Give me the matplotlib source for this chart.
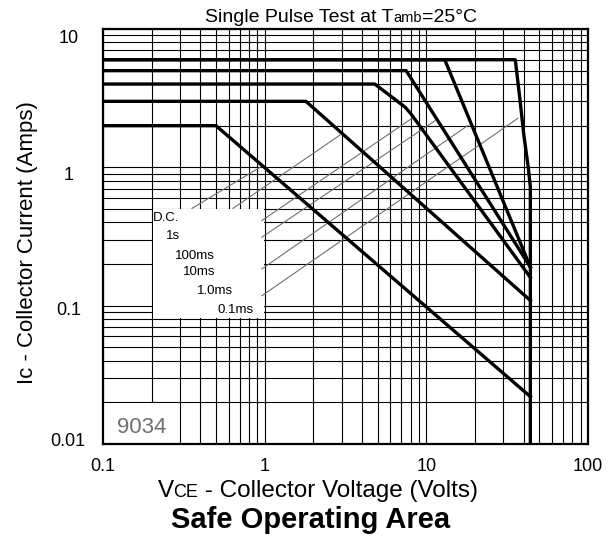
"""Safe operating area chart (single pulse, Tamb=25C)."""
import matplotlib
matplotlib.use('Agg')
from matplotlib import pyplot as plt
from matplotlib.offsetbox import TextArea, HPacker, AnnotationBbox
from matplotlib.patches import Rectangle
from matplotlib.transforms import ScaledTranslation

plt.rcParams['font.family'] = ['Liberation Sans', 'DejaVu Sans']

# SOA limits: collector volts / amps
v_dc = [0.1, 0.5, 44]
i_dc = [2.0, 2.0, 0.022]
v_1s = [0.1, 1.8, 44]
i_1s = [3.0, 3.0, 0.109]
v_100ms = [0.1, 4.8, 7.4, 8.0, 44]
i_100ms = [4.0, 4.0, 2.72, 2.45, 0.16]
v_10ms = [0.1, 7.5, 44]
i_10ms = [5.0, 5.0, 0.19]
v_1ms = [0.1, 13, 44]
i_1ms = [6.0, 6.0, 0.19]
v_01ms = [0.1, 35.5, 38, 40, 42.7, 44, 44]
i_01ms = [6.0, 6.0, 3.05, 1.75, 1.0, 0.72, 0.01]

pulse_labels = ['D.C.', '1s', '100ms', '10ms', '1.0ms', '0.1ms']

# leader lines from the label box to each curve
lead_v0 = [0.355, 0.637, 0.962, 0.962, 0.962, 0.962]
lead_i0 = [0.505, 0.505, 0.413, 0.313, 0.1845, 0.118]
lead_v1 = [0.976, 2.92, 8.15, 11.3, 18.1, 36.8]
lead_i1 = [1.03, 1.71, 2.26, 2.17, 2.01, 2.26]

x_ticks = [0.1, 1, 10, 100]
x_ticklabels = ['0.1', '1', '10', '100']
y_ticks = [0.01, 0.1, 1, 10]
y_ticklabels = ['0.01', '0.1', '1', '10']
y_label_shift = [4, -3, -6, -7]  # px, the datasheet labels sit a bit off the lines


def mixed_text(fig, parts, xy):
    """Text made of pieces of different sizes sharing a baseline."""
    areas = [TextArea(s, textprops=dict(size=sz, color='black')) for s, sz in parts]
    pack = HPacker(children=areas, align='baseline', pad=0, sep=0)
    ab = AnnotationBbox(pack, xy, xycoords='figure fraction', frameon=False,
                        box_alignment=(0.5, 0.5), pad=0)
    fig.add_artist(ab)


fig = plt.figure(figsize=(6.13, 5.42), dpi=100)
ax = fig.add_axes([103 / 613, 1 - 444 / 542, 485 / 613, 415 / 542])
ax.set_xscale('log')
ax.set_yscale('log')
ax.set_xlim(0.1, 100)
ax.set_ylim(0.01, 10)
ax.set_axisbelow(True)
ax.grid(True, which='both', color='black', lw=0.8)

for s in ax.spines.values():
    s.set_linewidth(1.6)

ax.set_xticks(x_ticks)
ax.set_xticklabels(x_ticklabels)
ax.set_yticks(y_ticks)
ax.set_yticklabels(y_ticklabels, ha='center')
ax.tick_params(which='both', length=0, labelsize=13)
ax.tick_params(axis='x', pad=10)
ax.tick_params(axis='y', pad=25)
for lab, dy in zip(ax.get_yticklabels(), y_label_shift):
    lab.set_transform(lab.get_transform() + ScaledTranslation(0, dy / 100, fig.dpi_scale_trans))

# white boxes that blank the grid under the labels
ax.add_patch(Rectangle((0.203, 0.082), 0.995 - 0.203, 0.497 - 0.082,
                       facecolor='white', edgecolor='none', zorder=1))
ax.add_patch(Rectangle((0.1, 0.01), 0.28 - 0.1, 0.0198 - 0.01,
                       facecolor='white', edgecolor='none', zorder=1))

for v0, i0, v1, i1 in zip(lead_v0, lead_i0, lead_v1, lead_i1):
    ax.plot([v0, v1], [i0, i1], color='#707070', lw=0.8, zorder=2)

for v, i in [(v_dc, i_dc), (v_1s, i_1s), (v_100ms, i_100ms),
             (v_10ms, i_10ms), (v_1ms, i_1ms), (v_01ms, i_01ms)]:
    ax.plot(v, i, color='black', lw=2.4, zorder=3, solid_joinstyle='round')

label_x = [0.204, 0.245, 0.279, 0.311, 0.380, 0.512]
label_y = [0.43, 0.321, 0.230, 0.176, 0.1285, 0.0935]
for s, x, y in zip(pulse_labels, label_x, label_y):
    ax.text(x, y, s, fontsize=9.5, ha='left', va='center', zorder=4)

ax.text(0.1216, 0.0131, '9034', fontsize=16, color='#707070',
        ha='left', va='center', zorder=4)

mixed_text(fig, [('Single Pulse Test at T', 14), ('amb', 10.5), ('=25°C', 14)],
           (341 / 613, 1 - 17 / 542))
mixed_text(fig, [('V', 17.5), ('CE', 13), (' - Collector Voltage (Volts)', 17.5)],
           (318 / 613, 1 - 491 / 542))
fig.text(28 / 613, 1 - 243 / 542, 'Ic - Collector Current (Amps)',
         rotation=90, ha='center', va='center', fontsize=16)
fig.text(311 / 613, 1 - 520 / 542, 'Safe Operating Area', fontsize=21,
         fontweight='bold', ha='center', va='center')

fig.savefig('out.png', dpi=100)
plt.close(fig)
